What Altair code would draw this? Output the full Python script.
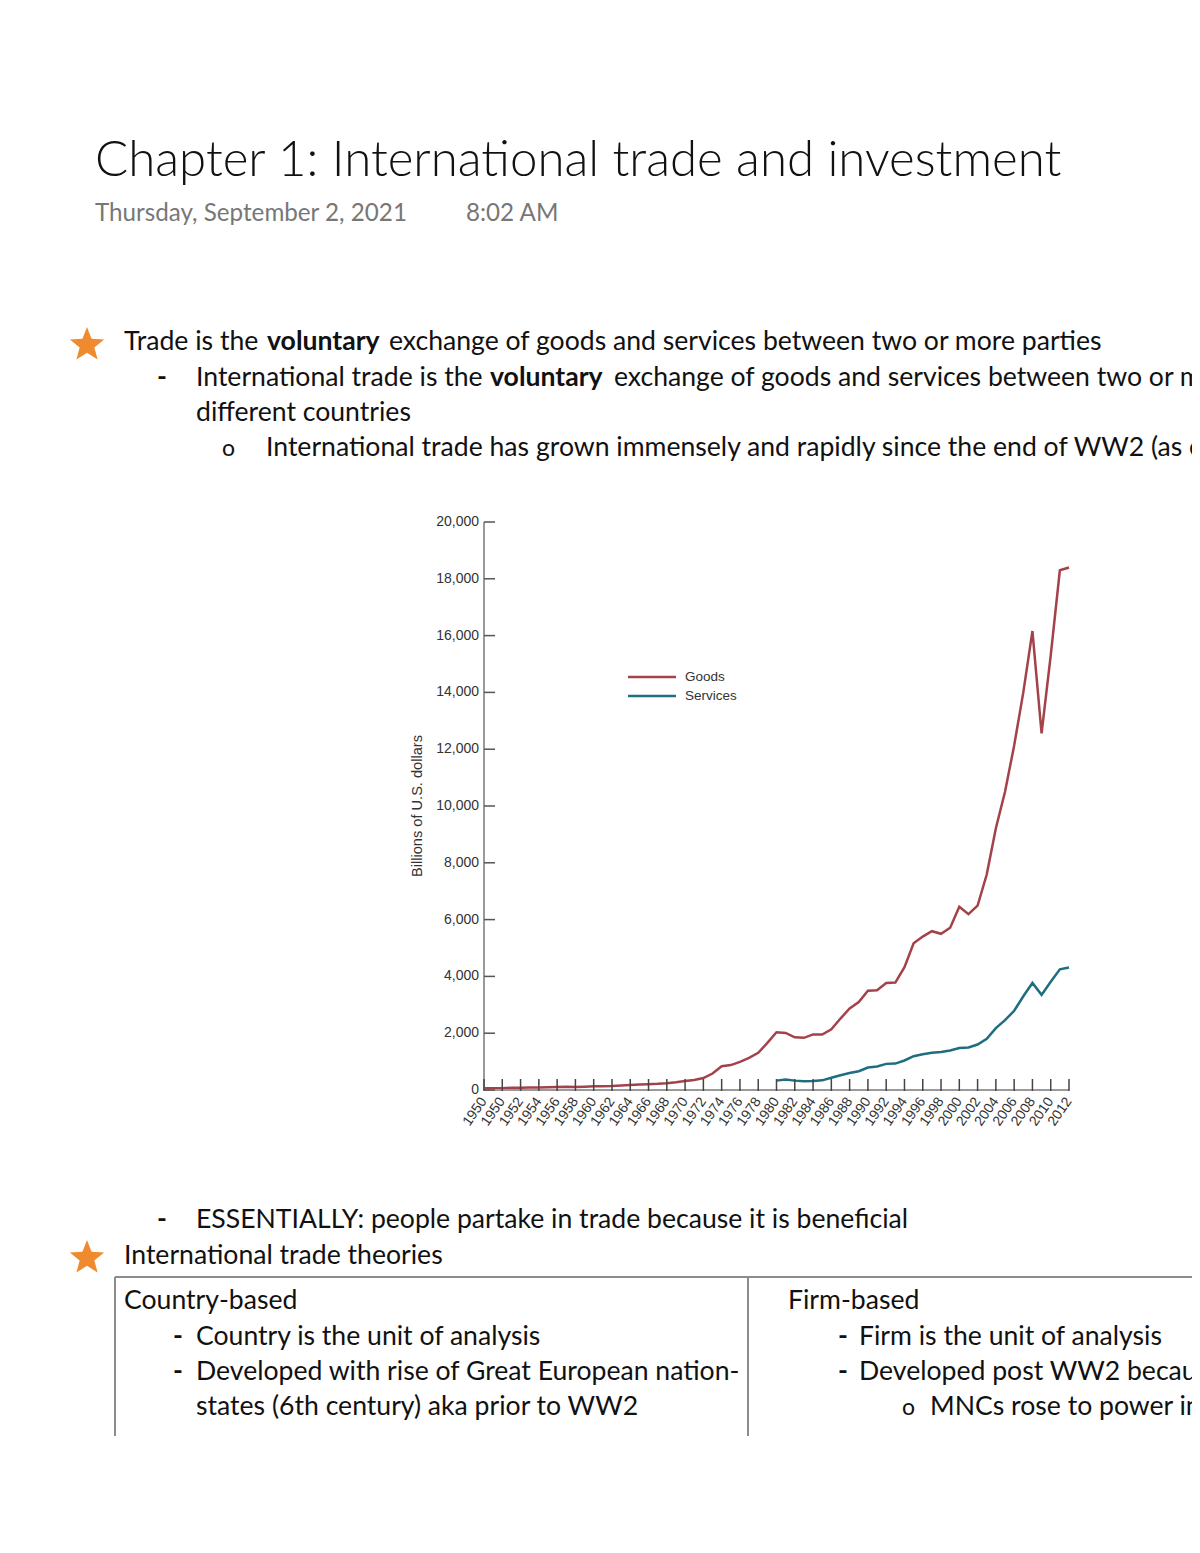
import math
import altair as alt
import pandas as pd

# ---------------- data ----------------
goods_years = list(range(1948, 2013))
goods_values = [59, 58, 62, 82, 80, 84, 87, 94, 104, 113,
                109, 116, 130, 135, 142, 157, 174, 190, 206, 216,
                241, 274, 317, 354, 419, 579, 839, 877, 992, 1128,
                1307, 1659, 2036, 2009, 1857, 1838, 1956, 1954, 2138, 2516,
                2869, 3100, 3495, 3515, 3766, 3782, 4326, 5168, 5403, 5591,
                5501, 5712, 6452, 6191, 6492, 7586, 9220, 10500, 12130, 14000,
                16160, 12555, 15300, 18300, 18400]
services_years = list(range(1980, 2013))
services_values = [330, 370, 330, 310, 320, 340, 430, 520, 600, 660,
                   790, 830, 920, 930, 1040, 1190, 1260, 1310, 1340, 1390,
                   1480, 1500, 1600, 1800, 2180, 2460, 2790, 3300, 3770, 3350,
                   3810, 4250, 4310]
series_names = ["Goods", "Services"]
series_colors = ["#A3424A", "#1E6E80"]
y_tick_values = list(range(0, 20001, 2000))
x_tick_values = list(range(1948, 2013, 2))
x_tick_labels = ["1950"] + [str(y) for y in range(1950, 2013, 2)]
y_title = "Billions of U.S. dollars"

page_title = "Chapter 1: International trade and investment"
page_date = "Thursday, September 2, 2021"
page_time = "8:02 AM"
line1 = ["Trade is the ", "voluntary", "exchange of goods and services between two or more parties"]
line2 = ["International trade is the ", "voluntary", "exchange of goods and services between two or more parties in"]
line3 = "different countries"
line4 = "International trade has grown immensely and rapidly since the end of WW2 (as evident in the graph below)"
line5 = "ESSENTIALLY: people partake in trade because it is beneficial"
line6 = "International trade theories"
left_col = ["Country-based", "Country is the unit of analysis",
            "Developed with rise of Great European nation-", "states (6th century) aka prior to WW2"]
right_col = ["Firm-based", "Firm is the unit of analysis",
             "Developed post WW2 because", "MNCs rose to power in"]

# ---------------- chart ----------------
OX, OY = 8, 8  # page margin
BODY = "Lato"
BS = 26.6
AXF = "Liberation Sans"
AXC = "#333333"

df = pd.DataFrame({
    "year": goods_years + services_years,
    "value": goods_values + services_values,
    "series": ["Goods"] * len(goods_years) + ["Services"] * len(services_years),
})

xscale = alt.Scale(domain=[1948, 2012], range=[484 - OX, 1069 - OX], nice=False, zero=False)
yscale = alt.Scale(domain=[0, 20000], range=[1090 - OY, 522 - OY], nice=False, zero=False)
cscale = alt.Scale(domain=series_names, range=series_colors)

lines = alt.Chart(df).mark_line(strokeWidth=2.5).encode(
    x=alt.X("year:Q", scale=xscale, axis=None),
    y=alt.Y("value:Q", scale=yscale, axis=None),
    color=alt.Color("series:N", scale=cscale, legend=None),
)

# axis lines
ydomain = alt.Chart(pd.DataFrame({"value": [y_tick_values[0]], "value2": [y_tick_values[-1]]})).mark_rule(
    color="#9a9a9a", strokeWidth=2).encode(
    y=alt.Y("value:Q", scale=yscale, axis=None), y2="value2:Q", x=alt.value(484 - OX))
xdomain = alt.Chart(pd.DataFrame({"year": [x_tick_values[0]], "year2": [x_tick_values[-1]]})).mark_rule(
    color="#9a9a9a", strokeWidth=2).encode(
    x=alt.X("year:Q", scale=xscale, axis=None), x2="year2:Q", y=alt.value(1090 - OY))

ytick = alt.Chart(pd.DataFrame({"value": y_tick_values})).mark_rule(
    color="#555", strokeWidth=1.5).encode(
    y=alt.Y("value:Q", scale=yscale, axis=None),
    x=alt.value(484 - OX), x2=alt.value(495 - OX))

xtick = alt.Chart(pd.DataFrame({"year": x_tick_values})).mark_rule(
    color="#444", strokeWidth=1.5).encode(
    x=alt.X("year:Q", scale=xscale, axis=None),
    y=alt.value(1079 - OY), y2=alt.value(1091 - OY))

ylabels = alt.Chart(pd.DataFrame({"value": y_tick_values})).mark_text(
    align="right", baseline="middle", font=AXF, fontSize=14, color=AXC).encode(
    y=alt.Y("value:Q", scale=yscale, axis=None),
    x=alt.value(479 - OX),
    text=alt.Text("value:Q", format=","))

xlabels = alt.Chart(pd.DataFrame({"year": x_tick_values, "label": x_tick_labels})).mark_text(
    align="right", baseline="middle", font=AXF, fontSize=14, color=AXC, angle=305).encode(
    x=alt.X("year:Q", scale=xscale, axis=None),
    y=alt.value(1099 - OY),
    text="label:N")

ytitle = alt.Chart(pd.DataFrame({"t": [y_title]})).mark_text(
    align="center", baseline="middle", font=AXF, fontSize=14.6, color=AXC, angle=270).encode(
    text="t:N", x=alt.value(418 - OX), y=alt.value(806 - OY))

legend_layers = []
for i, name in enumerate(series_names):
    ly = 677 + 19 * i
    ldf = pd.DataFrame({"series": [name]})
    legend_layers.append(alt.Chart(ldf).mark_rule(strokeWidth=2.5).encode(
        x=alt.value(628 - OX), x2=alt.value(676 - OX), y=alt.value(ly - OY),
        color=alt.Color("series:N", scale=cscale, legend=None)))
    legend_layers.append(alt.Chart(ldf).mark_text(
        align="left", baseline="middle", font=AXF, fontSize=13.5,
        color=AXC).encode(text="series:N", x=alt.value(685 - OX), y=alt.value(ly - OY)))


def txt(s, x, y, size=BS, weight="normal", color="#111", font=BODY):
    return alt.Chart(pd.DataFrame({"t": [s]})).mark_text(
        align="left", baseline="alphabetic", font=font, fontSize=size,
        fontWeight=weight, color=color).encode(
        text="t:N", x=alt.value(x - OX), y=alt.value(y - OY))


# star symbol path (shape, not data)
pts = []
for k in range(10):
    r = 1.0 if k % 2 == 0 else 0.43
    a = math.radians(-90 + 36 * k)
    pts.append("%.3f,%.3f" % (r * math.cos(a), r * math.sin(a)))
star_path = "M" + "L".join(pts) + "Z"


def star(x, y):
    return alt.Chart(pd.DataFrame({"s": ["star"]})).mark_point(
        shape=star_path, filled=True, size=1300, color="#EF8A2E", opacity=1,
        strokeWidth=0).encode(x=alt.value(x - OX), y=alt.value(y - OY))


def rule(x1, y1, x2, y2):
    return alt.Chart(pd.DataFrame({"r": [0]})).mark_rule(
        color="#8c8c8c", strokeWidth=2).encode(
        x=alt.value(x1 - OX), x2=alt.value(x2 - OX), y=alt.value(y1 - OY), y2=alt.value(y2 - OY))


doc = [
    txt(page_title, 95, 176, size=49.2, weight=300, color="#111"),
    txt(page_date, 95, 221, size=24.2, color="#777"),
    txt(page_time, 466, 221, size=24.2, color="#777"),
    star(87, 345),
    txt(line1[0], 124, 350), txt(line1[1], 267, 350, weight="bold"), txt(line1[2], 389, 350),
    txt("-", 157, 386, weight="bold"),
    txt(line2[0], 196, 386), txt(line2[1], 490, 386, weight="bold"), txt(line2[2], 614, 386),
    txt(line3, 196, 421),
    txt("o", 222, 456, size=23),
    txt(line4, 266, 456),
    txt("-", 157, 1228, weight="bold"),
    txt(line5, 196, 1228),
    star(87, 1258),
    txt(line6, 124, 1264),
    rule(115, 1277, 1200, 1277),
    rule(115, 1277, 115, 1436),
    rule(748, 1277, 748, 1436),
    txt(left_col[0], 124, 1309),
    txt("-", 173, 1345, weight="bold"), txt(left_col[1], 196, 1345),
    txt("-", 173, 1380, weight="bold"), txt(left_col[2], 196, 1380),
    txt(left_col[3], 196, 1415),
    txt(right_col[0], 788, 1309),
    txt("-", 838, 1345, weight="bold"), txt(right_col[1], 859, 1345),
    txt("-", 838, 1380, weight="bold"), txt(right_col[2], 859, 1380),
    txt("o", 902, 1415, size=23), txt(right_col[3], 930, 1415),
]

chart = alt.layer(lines, ydomain, xdomain, ytick, xtick, ylabels, xlabels, ytitle,
                  *legend_layers, *doc).properties(
    width=1184, height=1537, padding=0,
    autosize=alt.AutoSizeParams(type="none"),
).configure_view(strokeWidth=0)

chart.save("out.html", embed_options={"renderer": "svg", "actions": False})
